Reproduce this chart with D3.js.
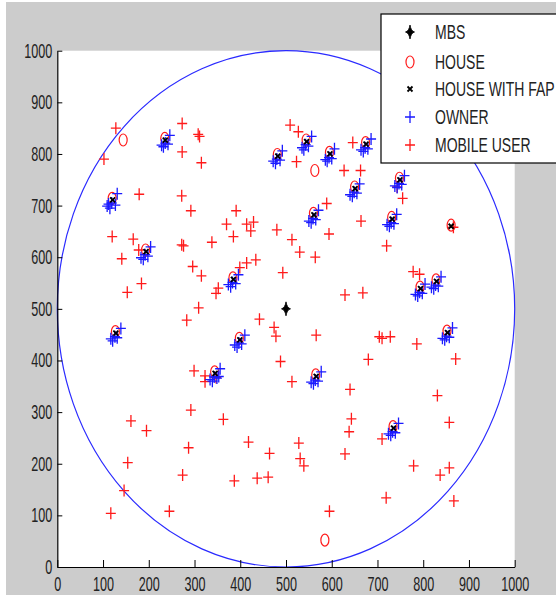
<!DOCTYPE html>
<html lang="en">
<head>
<meta charset="UTF-8">
<title>Network layout</title>
<script src="https://d3js.org/d3.v7.min.js"></script>
<style>
  body { margin: 0; background: #fff; }
  text { font-family: "Liberation Sans", Arial, sans-serif; }
</style>
</head>
<body>
<svg width="556" height="607"></svg>
<script>
// ---- data ----
var xTicks = [0, 100, 200, 300, 400, 500, 600, 700, 800, 900, 1000];
var yTicks = [0, 100, 200, 300, 400, 500, 600, 700, 800, 900, 1000];
var legendLabels = ["MBS", "HOUSE", "HOUSE WITH FAP", "OWNER", "MOBILE USER"];

var mbs = [[500, 500]];

var fap = [
  [121, 711], [236, 827], [194, 611], [385, 557], [482, 796], [128, 453],
  [399, 440], [345, 375], [545, 824], [596, 800], [675, 819], [651, 733],
  [749, 750], [561, 682], [732, 674], [861, 660], [794, 539], [829, 553],
  [853, 454], [566, 369], [735, 269]
];

var houses = [
  [120, 714], [235, 830], [193, 614], [384, 560], [481, 799], [127, 456],
  [398, 443], [344, 378], [544, 827], [595, 803], [674, 822], [650, 736],
  [748, 753], [560, 685], [731, 677], [861, 662], [793, 542], [828, 556],
  [852, 457], [565, 372], [734, 272],
  [144, 827], [563, 768], [585, 52]
];

var owners = [
  [109, 699], [119, 705], [131, 723], [115, 695], [127, 701], [112, 703],
  [228, 817], [236, 821], [246, 836], [232, 814], [242, 819],
  [183, 599], [192, 605], [204, 620], [188, 596], [198, 602],
  [374, 547], [383, 551], [396, 566], [379, 543], [390, 549],
  [472, 786], [480, 790], [492, 806], [477, 782], [487, 788],
  [117, 442], [126, 446], [139, 462], [121, 438], [131, 444],
  [388, 430], [397, 434], [410, 449], [393, 426], [403, 432],
  [334, 363], [343, 368], [356, 384], [339, 360], [349, 366], [353, 369],
  [535, 812], [543, 818], [556, 834], [539, 808], [549, 815],
  [586, 789], [594, 793], [606, 810], [590, 786], [600, 791],
  [664, 808], [673, 812], [686, 829], [669, 805], [679, 810],
  [640, 721], [649, 726], [661, 742], [645, 718], [655, 724],
  [738, 738], [747, 743], [759, 758], [743, 735], [753, 741],
  [550, 670], [559, 675], [571, 691], [555, 667], [565, 673],
  [721, 663], [730, 667], [742, 683], [726, 660], [736, 665],
  [783, 528], [792, 532], [804, 548], [788, 525], [798, 530],
  [818, 542], [827, 546], [839, 562], [823, 539], [833, 544],
  [842, 443], [851, 447], [864, 463], [847, 440], [857, 445],
  [555, 358], [564, 362], [577, 378], [560, 355], [570, 360],
  [724, 258], [733, 262], [746, 278], [729, 255], [739, 260]
];

var mobiles = [
  [128, 850], [102, 790], [273, 859], [308, 838], [311, 834], [273, 804],
  [315, 783], [179, 722], [272, 719], [292, 690], [391, 690], [370, 664],
  [414, 664], [429, 668], [423, 651], [385, 640], [120, 640], [166, 635],
  [178, 614], [272, 624], [276, 622], [338, 629], [141, 597], [296, 582],
  [315, 564], [399, 580], [414, 589], [434, 595], [184, 549], [153, 532],
  [347, 530], [352, 540], [309, 502], [480, 653],
  [509, 856], [527, 843], [523, 785], [646, 822], [627, 768], [663, 768],
  [589, 704], [664, 670], [594, 645], [513, 634], [530, 610], [564, 600],
  [493, 570], [720, 622], [755, 714], [743, 736], [778, 572], [792, 567],
  [629, 527], [668, 531], [866, 658],
  [871, 403], [831, 332], [857, 280], [857, 192],
  [566, 449], [704, 446], [710, 443], [728, 446], [786, 432], [488, 398],
  [474, 464], [478, 447], [680, 402], [513, 359], [640, 344], [643, 287],
  [638, 262], [710, 248], [528, 240], [531, 210], [539, 196], [629, 219],
  [779, 196], [837, 178], [719, 134], [867, 128], [595, 108],
  [283, 478], [442, 480], [299, 380], [323, 370], [323, 359], [347, 367],
  [292, 304], [363, 286], [161, 283], [195, 264], [418, 242], [464, 220],
  [287, 231], [154, 202], [146, 148], [117, 104], [245, 108], [274, 178],
  [387, 167], [437, 172], [461, 174]
];

// ---- layout ----
var svg = d3.select("svg");
var plotL = 57.3, plotR = 514.7, plotT = 50.7, plotB = 567;

var x = d3.scaleLinear().domain([0, 1000]).range([plotL, plotR]);
var y = d3.scaleLinear().domain([0, 1000]).range([plotB, plotT]);

// figure background and axes area
svg.append("rect").attr("x", 6).attr("y", 2).attr("width", 550).attr("height", 593).attr("fill", "#cccccc");
svg.append("rect").attr("x", plotL).attr("y", plotT).attr("width", plotR - plotL).attr("height", plotB - plotT).attr("fill", "#fff");

var plusPath = "M-5,0H5M0,-6V6";
var xPath = "M-2.5,-2.5L2.5,2.5M-2.5,2.5L2.5,-2.5";
var diamondPath = "M0,-7Q1,-1 4.5,0Q1,1 0,7Q-1,1 -4.5,0Q-1,-1 0,-7Z";

// coverage circle
svg.append("ellipse")
  .attr("cx", x(500)).attr("cy", y(500))
  .attr("rx", x(1000) - x(500)).attr("ry", y(0) - y(500))
  .attr("fill", "none").attr("stroke", "#2a2aff").attr("stroke-width", 1.2);

function markers(data, path, attrs) {
  var sel = svg.append("g").selectAll("path").data(data).enter().append("path")
    .attr("d", path)
    .attr("transform", function (d) { return "translate(" + x(d[0]) + "," + y(d[1]) + ")"; });
  for (var k in attrs) sel.attr(k, attrs[k]);
  return sel;
}

markers(mobiles, plusPath, { fill: "none", stroke: "#ff1a1a", "stroke-width": 1.3 });
svg.append("g").selectAll("ellipse").data(houses).enter().append("ellipse")
  .attr("cx", function (d) { return x(d[0]); })
  .attr("cy", function (d) { return y(d[1]); })
  .attr("rx", 4).attr("ry", 6)
  .attr("fill", "none").attr("stroke", "#ff1a1a").attr("stroke-width", 1.2);
markers(owners, plusPath, { fill: "none", stroke: "#1a1aff", "stroke-width": 1.3 });
markers(fap, xPath, { fill: "none", stroke: "#000", "stroke-width": 1.8 });
markers(mbs, diamondPath, { fill: "#000", stroke: "#000", "stroke-width": 0.8 });

// axes
var gx = svg.append("g").attr("transform", "translate(0," + plotB + ")")
  .call(d3.axisBottom(x).tickValues(xTicks).tickFormat(d3.format("d"))
    .tickSizeInner(-7).tickSizeOuter(0).tickPadding(8));
var gy = svg.append("g").attr("transform", "translate(" + plotL + ",0)")
  .call(d3.axisLeft(y).tickValues(yTicks).tickFormat(d3.format("d"))
    .tickSizeInner(-5).tickSizeOuter(0).tickPadding(8));

[gx, gy].forEach(function (g) {
  g.select(".domain").attr("stroke", "#000").attr("stroke-width", 1.2);
  g.selectAll(".tick line").attr("stroke", "#000");
  g.selectAll(".tick text")
    .attr("fill", "#222")
    .style("font-size", "20px")
    .style("font-family", "'Liberation Sans', Arial, sans-serif")
    .attr("transform", "scale(0.63,1)");
});
gx.selectAll(".tick text").attr("dy", "0.71em").attr("y", 10);

// legend
var lg = svg.append("g");
lg.append("rect").attr("x", 381).attr("y", 14).attr("width", 190).attr("height", 149)
  .attr("fill", "#fff").attr("stroke", "#000").attr("stroke-width", 1.2);

var legendY = [32, 62, 89, 117, 145];
var lx = 410;
lg.append("path").attr("d", diamondPath).attr("transform", "translate(" + lx + "," + legendY[0] + ")")
  .attr("fill", "#000").attr("stroke", "#000").attr("stroke-width", 0.8);
lg.append("ellipse").attr("cx", lx).attr("cy", legendY[1]).attr("rx", 4).attr("ry", 6)
  .attr("fill", "none").attr("stroke", "#ff1a1a").attr("stroke-width", 1.2);
lg.append("path").attr("d", xPath).attr("transform", "translate(" + lx + "," + legendY[2] + ")")
  .attr("fill", "none").attr("stroke", "#000").attr("stroke-width", 1.8);
lg.append("path").attr("d", plusPath).attr("transform", "translate(" + lx + "," + legendY[3] + ")")
  .attr("fill", "none").attr("stroke", "#1a1aff").attr("stroke-width", 1.3);
lg.append("path").attr("d", plusPath).attr("transform", "translate(" + lx + "," + legendY[4] + ")")
  .attr("fill", "none").attr("stroke", "#ff1a1a").attr("stroke-width", 1.3);

lg.selectAll("text").data(legendLabels).enter().append("text")
  .attr("transform", function (d, i) { return "translate(435," + (legendY[i] + 7) + ") scale(0.7,1)"; })
  .attr("fill", "#222")
  .style("font-size", "20px")
  .text(function (d) { return d; });
</script>
</body>
</html>
